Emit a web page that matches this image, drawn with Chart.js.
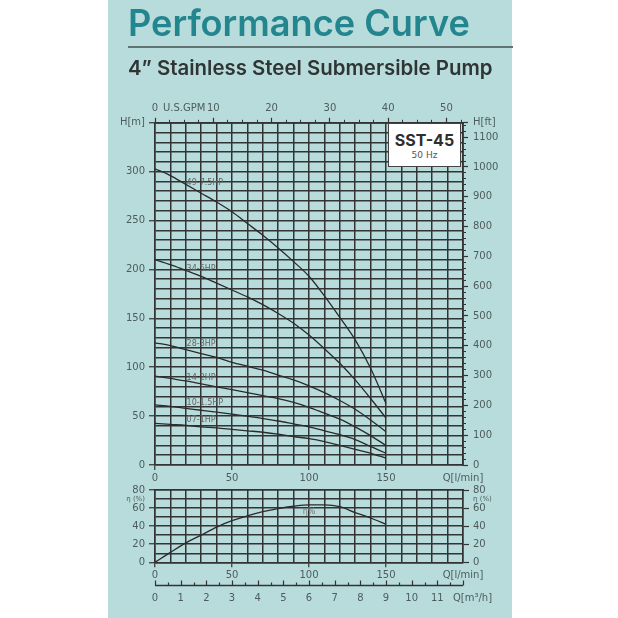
<!DOCTYPE html>
<html><head><meta charset="utf-8">
<script src="https://cdn.jsdelivr.net/npm/chart.js@4.4.0/dist/chart.umd.min.js"></script>
<style>
html,body{margin:0;padding:0;background:#fff;}
#wrap{position:relative;width:618px;height:618px;overflow:hidden;background:#fff;}
#panel{position:absolute;left:108px;top:0;width:404px;height:618px;background:#b8dcdc;}
canvas{position:absolute;left:0;top:0;}
#title{position:absolute;left:128px;top:5px;font-family:Inter;font-weight:600;font-size:37px;line-height:1;color:#23868f;white-space:nowrap;}
#rule{position:absolute;left:128px;top:46px;width:385px;height:2px;background:#5f7373;}
#sub{position:absolute;left:128px;top:58px;font-family:Inter;font-weight:600;font-size:20px;line-height:1;color:#2f3535;white-space:nowrap;}
#box{position:absolute;left:388px;top:123px;width:73px;height:44px;background:#fff;border:1px solid #444;box-sizing:border-box;text-align:center;}
#box .m{font-family:Inter;font-weight:700;font-size:16px;color:#2e2e2e;margin-top:8px;line-height:1;}
#box .s{font-family:'DejaVu Sans';font-size:9px;color:#555;margin-top:3px;line-height:1;}
</style></head>
<body>
<div id="wrap">
  <div id="panel"></div>
  <canvas id="c1" width="618" height="618"></canvas>
  <canvas id="c2" width="618" height="618"></canvas>
  <div id="title">Performance Curve</div>
  <div id="rule"></div>
  <div id="sub">4” Stainless Steel Submersible Pump</div>
  <div id="box"><div class="m">SST-45</div><div class="s">50 Hz</div></div>
</div>
<script>
// ---------- data ----------
const flowLpm = [0,10,20,30,40,50,60,70,80,90,100,110,120,130,140,150];
const head49 = [303,296,287,278,269,259,247,235,222,208,193,173,151,128,99,63];
const head34 = [210,205,199,193,186,179,172,164,155,145,133,119,104,87,68,48];
const head28 = [125,122,118,114,110,105,101,97,92,87,81,74,66,57,46,34];
const head14 = [91,88.5,86,83,80,77,74,71,68,64,59,53,47,39,30,20];
const head10 = [61.5,60,58,56,54,52,50,47.5,45,42,39,35,31,26,19,12];
const head07 = [42.5,41.5,40.5,39,38,36.5,35,33.5,31.5,29,27,24,20,16,12,7];
const effPct = [0,11,21.5,30,39,46,51.5,56,59.5,62,63.5,63.5,61.5,55,49,42];
const curveNames = ['49-7.5HP','34-5HP','28-3HP','14-2HP','10-1.5HP','07-1HP'];
const gpmLabels = [0,10,20,30,40,50];
const m3hLabels = [0,1,2,3,4,5,6,7,8,9,10,11];
const headSeries = [head49,head34,head28,head14,head10,head07];

// label anchors (data units)
const curveLabelAnchors = [[20.5,289],[20.5,200.5],[20.5,123.8],[20.5,89.3],[20.5,63.7],[20.5,46]];

// ---------- styles ----------
const GRID = '#333';
const TXT = '#4d5c5c';
const FONT = {family:'DejaVu Sans', size:10};
const NONE = 'rgba(0,0,0,0)';
const fixW = w => s => { s.width = w; };
const fixH = h => s => { s.height = h; };
const Q_MAX = 200, H_MAX = 350, FT = 3.28084, GPM = 3.785411784, M3H = 12;

const labelPlugin = {
  id: 'txt',
  afterDatasetsDraw(chart, args, opts) {
    const ctx = chart.ctx, x = chart.scales.x, y = chart.scales.y;
    ctx.save();
    ctx.font = opts.font; ctx.fillStyle = opts.color;
    ctx.textBaseline = 'middle'; ctx.textAlign = opts.align || 'left';
    opts.items.forEach(it => ctx.fillText(it.text, x.getPixelForValue(it.q), y.getPixelForValue(it.v)));
    ctx.restore();
  }
};

// draws the m3/h axis line and its upward ticks from the 'm' scale
const m3hAxisPlugin = {
  id: 'm3hAxis',
  afterDraw(chart) {
    const s = chart.scales.m; if (!s) return;
    const ctx = chart.ctx, y0 = Math.round(s.top) + 0.5;
    ctx.save();
    ctx.strokeStyle = GRID; ctx.lineWidth = 1.5;
    ctx.beginPath(); ctx.moveTo(s.left, y0); ctx.lineTo(s.right, y0); ctx.stroke();
    ctx.lineWidth = 1.2;
    for (let v = 0; v <= M3H; v += 0.5) {
      const px = Math.round(s.getPixelForValue(v)) + 0.5;
      const len = (v % 1 === 0) ? 5 : 3;
      ctx.beginPath(); ctx.moveTo(px, y0); ctx.lineTo(px, y0 - len); ctx.stroke();
    }
    ctx.restore();
  }
};

const common = {
  responsive:false, animation:false, devicePixelRatio:1,
  elements:{point:{radius:0}}
};

// ---------- main chart ----------
// plot area: x 155..463, y 122.8..465
new Chart(document.getElementById('c1'), {
  type:'line',
  data:{datasets: headSeries.map((h,i)=>({
    label: curveNames[i],
    data: flowLpm.map((q,j)=>({x:q,y:h[j]})),
    borderColor:'#2b2b2b', borderWidth:1.3, cubicInterpolationMode:'monotone', fill:false
  }))},
  plugins:[labelPlugin],
  options:Object.assign({}, common, {
    layout:{padding:{left:155-45, right:618-463-50, top:122.8-25, bottom:618-465-20}},
    plugins:{legend:{display:false}, tooltip:{enabled:false},
      txt:{font:'8px "DejaVu Sans"', color:'#666', items: curveNames.map((n,i)=>({text:n, q:curveLabelAnchors[i][0], v:curveLabelAnchors[i][1]}))}},
    scales:{
      x:{type:'linear', position:'bottom', min:0, max:Q_MAX, afterFit:fixH(20),
        ticks:{stepSize:10, autoSkip:false, maxRotation:0, minRotation:0, padding:2, color:TXT, font:FONT,
          callback:v=> v===Q_MAX ? 'Q[l/min]' : (v%50===0 ? String(v) : '')},
        grid:{color:GRID, lineWidth:1.5, tickLength:5, tickWidth:1.2,
          tickColor:c=> (c.tick && c.tick.value%50===0 && c.tick.value<Q_MAX) ? GRID : NONE},
        border:{color:GRID, width:1.5}},
      y:{type:'linear', position:'left', min:0, max:H_MAX, afterFit:fixW(45),
        ticks:{stepSize:10, autoSkip:false, padding:4, color:TXT, font:FONT,
          callback:v=> v===H_MAX ? 'H[m]' : (v%50===0 ? String(v) : '')},
        grid:{color:GRID, lineWidth:1.5, tickLength:6, tickWidth:1.2,
          tickColor:c=> (c.tick && (c.tick.value%50===0)) ? GRID : NONE},
        border:{color:GRID, width:1.5}},
      ftMinor:{type:'linear', position:'right', weight:0, min:0, max:H_MAX*FT, afterFit:fixW(0),
        afterBuildTicks:s=>{ const t=[]; for(let v=0; v<=1140; v+=20) t.push({value:v}); s.ticks=t; },
        ticks:{autoSkip:false, callback:()=>'', font:FONT},
        grid:{drawOnChartArea:false, tickLength:3, tickColor:GRID, tickWidth:1},
        border:{color:GRID, width:1.5}},
      ft:{type:'linear', position:'right', weight:1, min:0, max:H_MAX*FT, afterFit:fixW(50),
        afterBuildTicks:s=>{ const t=[]; for(let v=0; v<=1100; v+=100) t.push({value:v}); t.push({value:H_MAX*FT}); s.ticks=t; },
        ticks:{autoSkip:false, padding:5, color:TXT, font:FONT,
          callback:v=> v>1140 ? 'H[ft]' : String(v)},
        grid:{drawOnChartArea:false, tickLength:5, tickColor:GRID, tickWidth:1.2},
        border:{color:GRID, width:1.5}},
      gpmMinor:{type:'linear', position:'top', weight:0, min:0, max:Q_MAX/GPM, afterFit:fixH(0),
        afterBuildTicks:s=>{ const t=[]; for(let v=0; v<=52.5; v+=2.5) t.push({value:v}); s.ticks=t; },
        ticks:{autoSkip:false, maxRotation:0, callback:()=>'', font:FONT},
        grid:{drawOnChartArea:false, tickLength:3, tickColor:GRID, tickWidth:1},
        border:{color:GRID, width:1.5}},
      gpm:{type:'linear', position:'top', weight:1, min:0, max:Q_MAX/GPM, afterFit:fixH(25),
        afterBuildTicks:s=>{ const t=[{value:0},{value:5}]; gpmLabels.slice(1).forEach(v=>t.push({value:v})); s.ticks=t; },
        ticks:{autoSkip:false, maxRotation:0, minRotation:0, padding:3, color:TXT, font:FONT,
          callback:v=> v===5 ? 'U.S.GPM' : String(v)},
        grid:{drawOnChartArea:false, tickLength:5, tickWidth:1.2,
          tickColor:c=> (c.tick && c.tick.value===5) ? NONE : GRID},
        border:{color:GRID, width:1.5}}
    }
  })
});

// ---------- efficiency chart + m3/h axis ----------
// plot area: x 155..463, y 490..562.3 ; m3/h axis line at y=585
const effTickFont = c => (c.tick && c.tick.value===70) ? {family:'DejaVu Sans', size:7} : FONT;
const effTickLabel = v => v===70 ? 'η (%)' : (v%20===0 ? String(v) : '');
new Chart(document.getElementById('c2'), {
  type:'line',
  data:{datasets:[{label:'η%', data: flowLpm.map((q,j)=>({x:q,y:effPct[j]})),
    borderColor:'#2b2b2b', borderWidth:1.3, cubicInterpolationMode:'monotone', fill:false}]},
  plugins:[labelPlugin, m3hAxisPlugin],
  options:Object.assign({}, common, {
    layout:{padding:{left:155-45, right:618-463-45, top:490, bottom:618-585-25}},
    plugins:{legend:{display:false}, tooltip:{enabled:false},
      txt:{font:'8px "DejaVu Sans"', color:'#777', align:'center', items:[{text:'η%', q:100, v:55.6}]}},
    scales:{
      x:{type:'linear', position:'bottom', weight:0, min:0, max:Q_MAX, afterFit:fixH(585-562.3),
        ticks:{stepSize:10, autoSkip:false, maxRotation:0, minRotation:0, padding:2, color:TXT, font:FONT,
          callback:v=> v===Q_MAX ? 'Q[l/min]' : (v%50===0 ? String(v) : '')},
        grid:{color:GRID, lineWidth:1.5, tickLength:5, tickWidth:1.2,
          tickColor:c=> (c.tick && c.tick.value%50===0 && c.tick.value<Q_MAX) ? GRID : NONE},
        border:{color:GRID, width:1.5}},
      m:{type:'linear', axis:'x', position:'bottom', weight:2, min:0, max:M3H, afterFit:fixH(25),
        afterBuildTicks:s=>{ const t=m3hLabels.map(v=>({value:v})); t.push({value:M3H}); s.ticks=t; },
        ticks:{autoSkip:false, maxRotation:0, minRotation:0, padding:7, color:TXT, font:FONT,
          callback:v=> v===M3H ? '      Q[m³/h]' : String(v)},
        grid:{drawOnChartArea:false, drawTicks:false},
        border:{display:false}},
      y:{type:'linear', position:'left', min:0, max:80, afterFit:fixW(45),
        ticks:{stepSize:10, autoSkip:false, padding:4, color:TXT, font:effTickFont, callback:effTickLabel},
        grid:{color:GRID, lineWidth:1.5, tickLength:6, tickWidth:1.2,
          tickColor:c=> (c.tick && c.tick.value%20===0) ? GRID : NONE},
        border:{color:GRID, width:1.5}},
      yR:{type:'linear', position:'right', min:0, max:80, afterFit:fixW(45),
        ticks:{stepSize:10, autoSkip:false, padding:4, color:TXT, font:effTickFont, callback:effTickLabel},
        grid:{drawOnChartArea:false, tickLength:6, tickWidth:1.2,
          tickColor:c=> (c.tick && c.tick.value%20===0) ? GRID : NONE},
        border:{color:GRID, width:1.5}},
      xTop:{type:'linear', position:'top', min:0, max:Q_MAX, afterFit:fixH(0),
        ticks:{display:false}, grid:{drawOnChartArea:false, drawTicks:false},
        border:{color:GRID, width:1.5}}
    }
  })
});

// fit headline widths
function fitW(id, w){ const el=document.getElementById(id); const r=el.getBoundingClientRect().width; const fs=parseFloat(getComputedStyle(el).fontSize); el.style.fontSize=(fs*w/r)+'px'; }
fitW('title', 342);
fitW('sub', 365);
</script>
</body></html>
